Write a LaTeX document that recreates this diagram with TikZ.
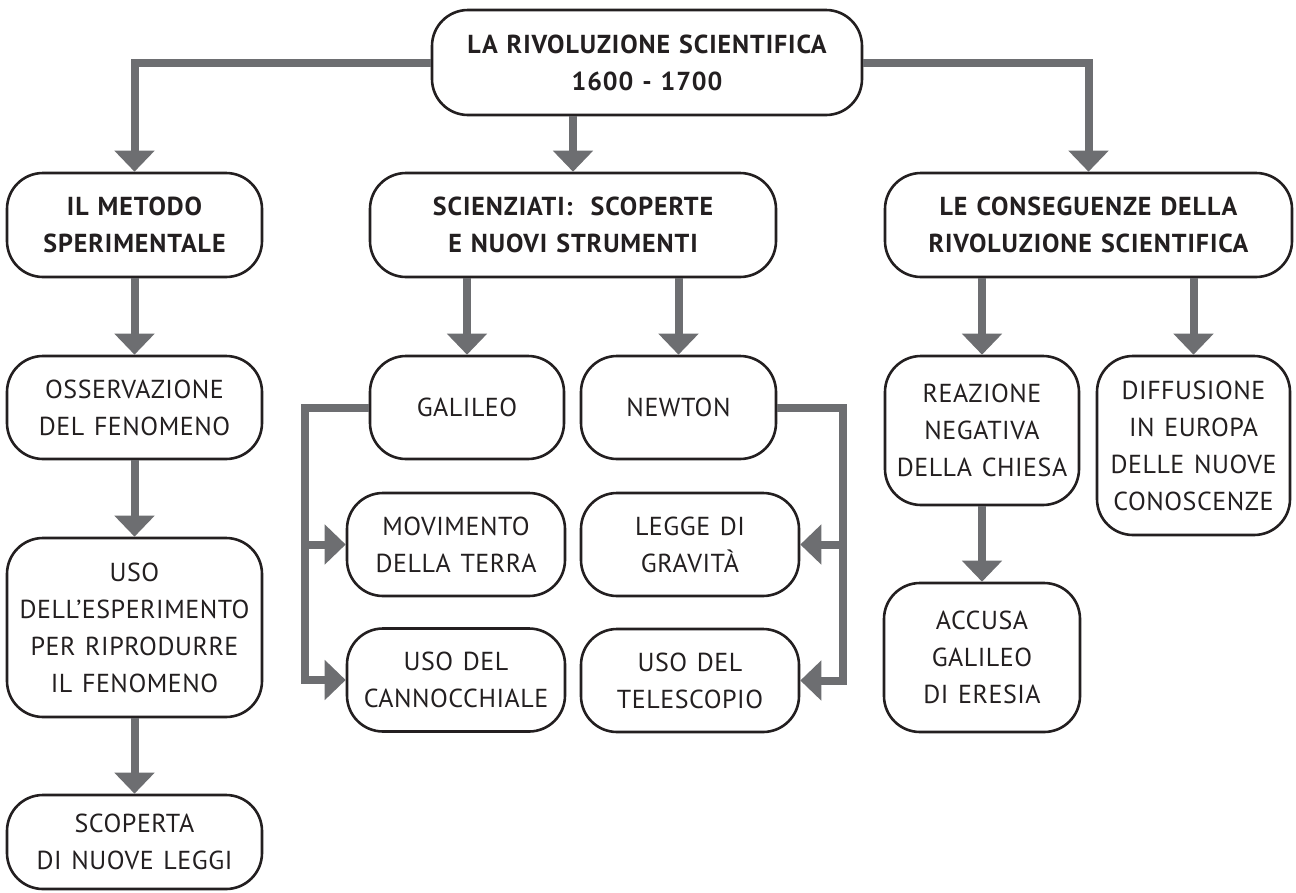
\documentclass[tikz,border=0pt]{standalone}
\usepackage{fontspec}
\setmainfont[LetterSpace=2,WordSpace=1.3]{PT Sans}
\newfontfamily\boldsans[LetterSpace=3.5,WordSpace=1.2]{PT Sans}
\usetikzlibrary{arrows.meta}
\definecolor{conncol}{HTML}{6D6E71}
\definecolor{boxcol}{HTML}{231F20}
\tikzset{
  box/.style={draw=boxcol, line width=2.6pt, rounded corners=36pt, inner sep=0pt,
    align=center, font=\fontsize{26}{37}\selectfont, text=boxcol, fill=white},
  boldbox/.style={box, font=\fontsize{26}{37}\selectfont\boldsans\bfseries},
  conn/.style={draw=conncol, line width=8pt, line join=miter,
    -{Triangle[width=39pt,length=21pt]}},
}
\begin{document}
\begin{tikzpicture}[x=1pt,y=-1pt]
\useasboundingbox (0,0) rectangle (1296,892);
% nodes
\node[boldbox, minimum width=430pt, minimum height=105pt] (top) at (647,62.5) {LA RIVOLUZIONE SCIENTIFICA\\1600 - 1700};
\node[boldbox, minimum width=255pt, minimum height=104pt] (metodo) at (134.5,225) {IL METODO\\SPERIMENTALE};
\node[boldbox, minimum width=406pt, minimum height=104pt] (scienz) at (573,225) {SCIENZIATI:\ \ SCOPERTE\\E NUOVI STRUMENTI};
\node[boldbox, minimum width=407pt, minimum height=104pt] (consq) at (1088.5,225) {LE CONSEGUENZE DELLA\\RIVOLUZIONE SCIENTIFICA};
\node[box, minimum width=255pt, minimum height=103pt] (osserv) at (134.5,407.5) {OSSERVAZIONE\\DEL FENOMENO};
\node[box, minimum width=255pt, minimum height=179pt] (uso) at (134.5,627.5) {USO\\DELL’ESPERIMENTO\\PER RIPRODURRE\\IL FENOMENO};
\node[box, minimum width=255pt, minimum height=94pt] (scoperta) at (134.5,842) {SCOPERTA\\DI NUOVE LEGGI};
\node[box, minimum width=194pt, minimum height=103pt] (galileo) at (467,407.5) {GALILEO};
\node[box, minimum width=195pt, minimum height=103pt] (newton) at (678.5,407.5) {NEWTON};
\node[box, minimum width=218pt, minimum height=103pt] (movimento) at (456,544.5) {MOVIMENTO\\DELLA TERRA};
\node[box, minimum width=218pt, minimum height=103pt] (legge) at (690,544.5) {LEGGE DI\\GRAVITÀ};
\node[box, minimum width=218pt, minimum height=103pt] (cannoc) at (456,680) {USO DEL\\CANNOCCHIALE};
\node[box, minimum width=218pt, minimum height=103pt] (telesc) at (690,680.5) {USO DEL\\TELESCOPIO};
\node[box, minimum width=194pt, minimum height=149pt] (reazione) at (982,430.5) {REAZIONE\\NEGATIVA\\DELLA CHIESA};
\node[box, minimum width=193pt, minimum height=179pt] (diffus) at (1193.5,445.5) {DIFFUSIONE\\IN EUROPA\\DELLE NUOVE\\CONOSCENZE};
\node[box, minimum width=196pt, minimum height=149pt] (accusa) at (982,657.5) {ACCUSA\\GALILEO\\DI ERESIA};
% coordinates for branch lines
\coordinate (gl) at (305,407.5);
\coordinate (nr) at (843,407.5);
% connectors
\draw[conn] (top.west) -| (metodo.north);
\draw[conn] (top.south -| scienz.north) -- (scienz.north);
\draw[conn] (top.east) -| (consq.north);
\draw[conn] (metodo.south) -- (osserv.north);
\draw[conn] (osserv.south) -- (uso.north);
\draw[conn] (uso.south) -- (scoperta.north);
\draw[conn] (scienz.south -| galileo.north) -- (galileo.north);
\draw[conn] (scienz.south -| newton.north) -- (newton.north);
\draw[conn] (consq.south -| reazione.north) -- (reazione.north);
\draw[conn] (consq.south -| diffus.north) -- (diffus.north);
\draw[conn] (reazione.south) -- (accusa.north);
\draw[conn] (galileo.west) -- (gl) |- (cannoc.west);
\draw[conn] (gl |- movimento.west) -- (movimento.west);
\draw[conn] (newton.east) -- (nr) |- (telesc.east);
\draw[conn] (nr |- legge.east) -- (legge.east);
\end{tikzpicture}
\end{document}
